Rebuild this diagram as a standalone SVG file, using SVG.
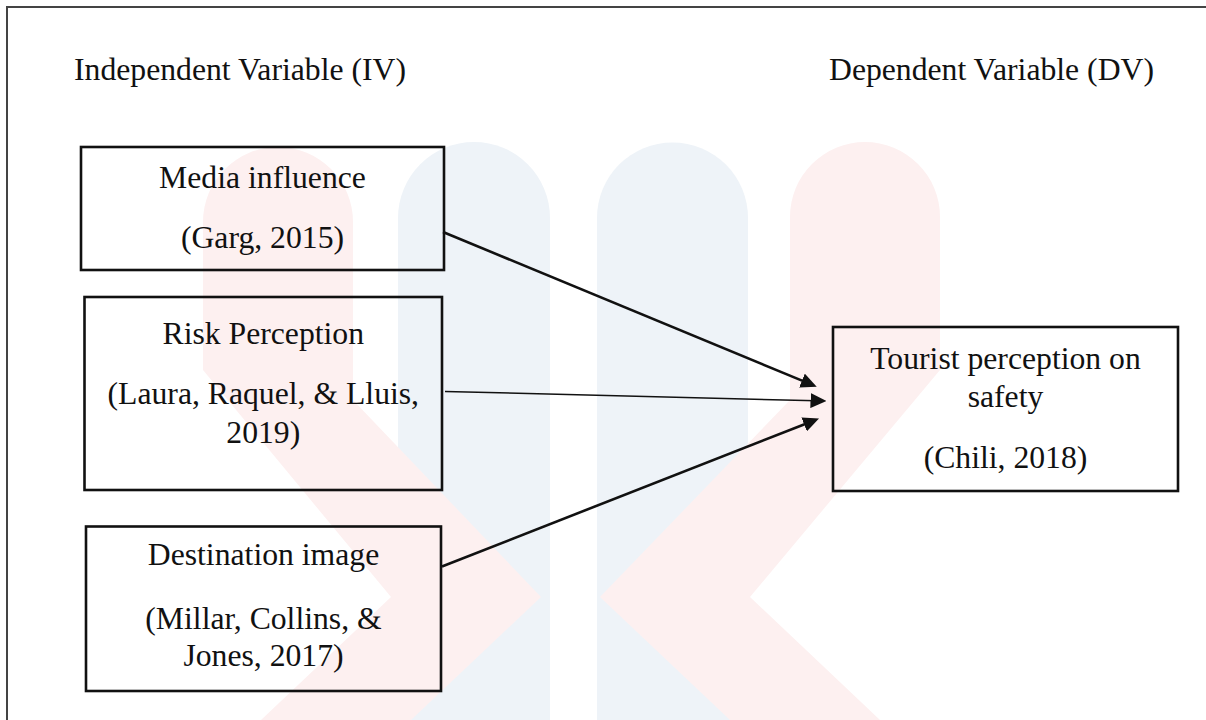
<svg xmlns="http://www.w3.org/2000/svg" width="1206" height="720" viewBox="0 0 1206 720">
  <defs>
    <style>
      .box { fill: none; stroke: #111; stroke-width: 2.6; }
      .t { font-family: "Liberation Serif", "Times New Roman", serif; font-size: 31.7px; fill: #111; }
      .c { text-anchor: middle; }
      .conn { stroke: #111; fill: none; }
      .thick { stroke-width: 2.6; }
      .thin { stroke-width: 1.5; }
      .wm-red { fill: #fdf0f0; }
      .wm-blue { fill: #eef3f8; }
    </style>
    <marker id="arrow" viewBox="0 0 16 15" markerUnits="userSpaceOnUse" markerWidth="16" markerHeight="15" refX="6" refY="7.5" orient="auto">
      <path d="M0,0 L16,7.5 L0,15 Z" fill="#111"/>
    </marker>
  </defs>

  <rect x="0" y="0" width="1206" height="720" fill="#ffffff"/>

  <!-- faint watermark -->
  <g id="watermark">
    <path class="wm-blue" d="M398,720 L398,218 A76,76 0 0 1 550,218 L550,720 Z"/>
    <path class="wm-blue" d="M597,720 L597,218 A75.5,75.5 0 0 1 748,218 L748,720 Z"/>
    <path class="wm-red" d="M203,222 A75,75 0 0 1 353,222 L353,400 L541,597 L411,720 L261,720 L391,597 L203,370 Z"/>
    <path class="wm-red" d="M790,217 A75,75 0 0 1 940,217 L940,370 L750,597 L880,720 L730,720 L600,597 L790,400 Z"/>
  </g>

  <!-- outer frame -->
  <path d="M7,720 L7,7 L1206,7" fill="none" stroke="#444" stroke-width="2"/>

  <text class="t" x="74" y="80">Independent Variable (IV)</text>
  <text class="t" x="829" y="80">Dependent Variable (DV)</text>

  <g id="node-media">
    <rect class="box" x="81" y="147" width="363" height="123"/>
    <text class="t c" x="262.5" y="188">Media influence</text>
    <text class="t c" x="262.5" y="248">(Garg, 2015)</text>
  </g>

  <g id="node-risk">
    <rect class="box" x="84.5" y="297" width="357.5" height="193"/>
    <text class="t c" x="263.3" y="344">Risk Perception</text>
    <text class="t c" x="263.3" y="404">(Laura, Raquel, &amp; Lluis,</text>
    <text class="t c" x="263.3" y="442.5">2019)</text>
  </g>

  <g id="node-destination">
    <rect class="box" x="86" y="526.5" width="355" height="164.5"/>
    <text class="t c" x="263.5" y="565">Destination image</text>
    <text class="t c" x="263.5" y="628.5">(Millar, Collins, &amp;</text>
    <text class="t c" x="263.5" y="666">Jones, 2017)</text>
  </g>

  <g id="node-tourist">
    <rect class="box" x="833" y="327" width="345" height="164"/>
    <text class="t c" x="1005.5" y="369">Tourist perception on</text>
    <text class="t c" x="1005.5" y="406.5">safety</text>
    <text class="t c" x="1005.5" y="468">(Chili, 2018)</text>
  </g>

  <g id="connectors">
    <line class="conn thick" x1="443" y1="232" x2="807.5" y2="382.9" marker-end="url(#arrow)"/>
    <line class="conn thin" x1="445" y1="391.5" x2="816.5" y2="400.75" marker-end="url(#arrow)"/>
    <line class="conn thick" x1="442" y1="566.5" x2="809.7" y2="422.2" marker-end="url(#arrow)"/>
  </g>
</svg>
